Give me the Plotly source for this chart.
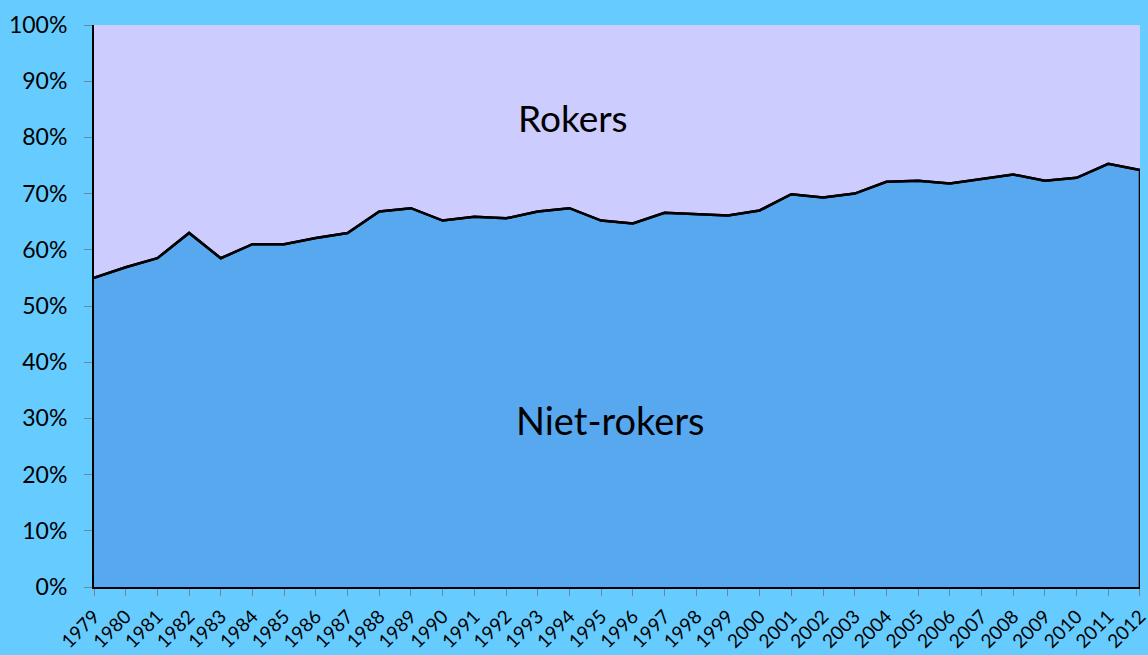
import plotly.graph_objects as go

years = list(range(1979, 2013))
niet_rokers = [55.0, 56.9, 58.5, 63.0, 58.5, 61.0, 61.0, 62.1, 63.0, 66.8,
               67.4, 65.2, 65.9, 65.6, 66.8, 67.4, 65.2, 64.7, 66.6, 66.3,
               66.1, 67.0, 69.9, 69.3, 70.0, 72.1, 72.3, 71.8, 72.6, 73.4,
               72.3, 72.8, 75.3, 74.2]
rokers = [round(100 - v, 1) for v in niet_rokers]
y_ticks = list(range(0, 101, 10))

FONT = "Lato, 'Open Sans', sans-serif"

fig = go.Figure()
fig.add_trace(go.Scatter(
    x=years, y=niet_rokers, stackgroup="one", fillcolor="#58A8F0",
    line=dict(color="black", width=2.5), mode="lines", showlegend=False,
))
fig.add_trace(go.Scatter(
    x=years, y=rokers, stackgroup="one", fillcolor="#CCCCFF",
    line=dict(color="#CCCCFF", width=0), mode="lines", showlegend=False,
))
# boundary line on top, plus right-hand closing edge of the lower area
fig.add_trace(go.Scatter(
    x=years + [years[-1]], y=niet_rokers + [0], mode="lines",
    line=dict(color="black", width=2.5), showlegend=False, hoverinfo="skip",
))

fig.update_layout(
    width=1148, height=655,
    paper_bgcolor="#66CCFF", plot_bgcolor="#CCCCFF",
    margin=dict(l=94, r=8, t=25, b=68),
    font=dict(family=FONT, color="black"),
    annotations=[
        dict(text="Rokers", x=1994.1, y=83.6, xref="x", yref="y",
             showarrow=False, font=dict(size=37, family=FONT)),
        dict(text="Niet-rokers", x=1995.3, y=29.7, xref="x", yref="y",
             showarrow=False, font=dict(size=38, family=FONT)),
    ],
)
fig.update_xaxes(
    range=[1979, 2012.001], tickmode="array", tickvals=years,
    ticktext=[str(y) for y in years], tickangle=-45,
    ticks="outside", ticklen=7, tickcolor="#6b8799", tickwidth=1,
    showline=True, linecolor="black", linewidth=2,
    showgrid=False, zeroline=False, automargin=False,
    ticklabeloverflow="allow", ticklabelstandoff=2,
    tickfont=dict(size=19, family=FONT),
)
fig.update_yaxes(
    range=[0, 100], tickvals=y_ticks, ticktext=[f"{v}%" for v in y_ticks],
    ticks="outside", ticklen=8, tickcolor="#6b8799", tickwidth=1,
    showline=True, linecolor="black", linewidth=2,
    showgrid=False, zeroline=False, automargin=False,
    ticklabelstandoff=12,
    tickfont=dict(size=23, family=FONT),
)

fig.write_html(
    "out.html",
    config={"displayModeBar": False},
    post_script="document.body.style.margin='0';document.body.style.overflow='hidden';",
)
